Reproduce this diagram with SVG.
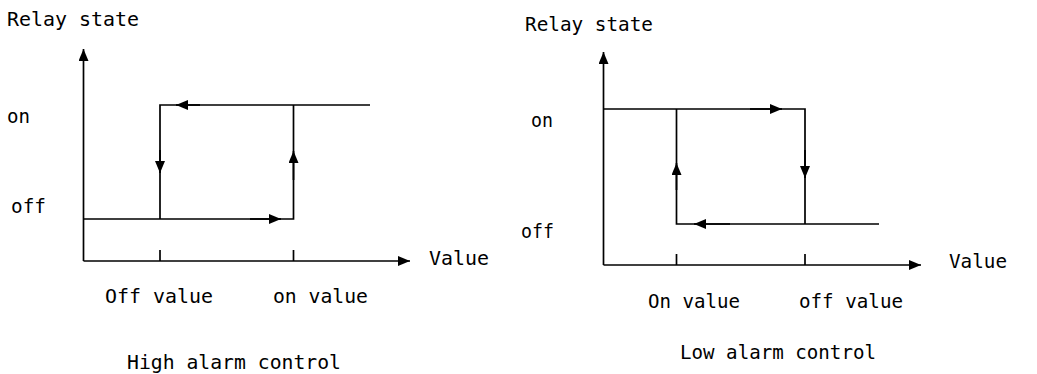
<svg xmlns="http://www.w3.org/2000/svg" width="1037" height="374" viewBox="0 0 1037 374">
<defs>
<style>
.t{font-family:"DejaVu Sans Mono","Liberation Mono",monospace;font-size:19.5px;fill:#000}
.l{stroke:#000;stroke-width:1.7;fill:none}
</style>
<marker id="ah" viewBox="0 0 12 10" refX="12" refY="5" markerWidth="12" markerHeight="10" markerUnits="userSpaceOnUse" orient="auto">
<path d="M0,0 L12,5 L0,10 z" fill="#000"/>
</marker>
</defs>
<rect width="1037" height="374" fill="#fff"/>
<g id="connectors">
<!-- left chart axes -->
<line class="l" x1="83.5" y1="261" x2="83.5" y2="49" marker-end="url(#ah)"/>
<line class="l" x1="83.5" y1="261" x2="410" y2="261" marker-end="url(#ah)"/>
<line class="l" x1="160" y1="250" x2="160" y2="261"/>
<line class="l" x1="293.5" y1="250" x2="293.5" y2="261"/>
<!-- left hysteresis -->
<polyline class="l" points="370,105 160,105 160,219"/>
<polyline class="l" points="83.5,219 293.5,219 293.5,105"/>
<line class="l" x1="200" y1="105" x2="176" y2="105" marker-end="url(#ah)"/>
<line class="l" x1="160" y1="150" x2="160" y2="173" marker-end="url(#ah)"/>
<line class="l" x1="250" y1="219" x2="281" y2="219" marker-end="url(#ah)"/>
<line class="l" x1="293.5" y1="180" x2="293.5" y2="151" marker-end="url(#ah)"/>
<!-- right chart axes -->
<line class="l" x1="603.5" y1="265" x2="603.5" y2="52" marker-end="url(#ah)"/>
<line class="l" x1="603.5" y1="265" x2="921" y2="265" marker-end="url(#ah)"/>
<line class="l" x1="676.5" y1="254" x2="676.5" y2="265"/>
<line class="l" x1="805" y1="254" x2="805" y2="265"/>
<!-- right hysteresis -->
<polyline class="l" points="603.5,109 805,109 805,224"/>
<polyline class="l" points="879,224 676.5,224 676.5,109"/>
<line class="l" x1="750" y1="109" x2="782" y2="109" marker-end="url(#ah)"/>
<line class="l" x1="805" y1="150" x2="805" y2="178" marker-end="url(#ah)"/>
<line class="l" x1="730" y1="224" x2="694" y2="224" marker-end="url(#ah)"/>
<line class="l" x1="676.5" y1="190" x2="676.5" y2="163" marker-end="url(#ah)"/>
</g>
<g id="left-labels">
<text class="t" x="7" y="26" textLength="132" lengthAdjust="spacingAndGlyphs">Relay state</text>
<text class="t" x="7" y="123" textLength="23" lengthAdjust="spacingAndGlyphs">on</text>
<text class="t" x="11" y="213" textLength="35" lengthAdjust="spacingAndGlyphs">off</text>
<text class="t" x="429" y="265" textLength="60" lengthAdjust="spacingAndGlyphs">Value</text>
<text class="t" x="105" y="303" textLength="108" lengthAdjust="spacingAndGlyphs">Off value</text>
<text class="t" x="273" y="303" textLength="95" lengthAdjust="spacingAndGlyphs">on value</text>
<text class="t" x="127" y="369" textLength="214" lengthAdjust="spacingAndGlyphs">High alarm control</text>
</g>
<g id="right-labels">
<text class="t" x="525" y="31" textLength="128" lengthAdjust="spacingAndGlyphs">Relay state</text>
<text class="t" x="531" y="127" textLength="22" lengthAdjust="spacingAndGlyphs">on</text>
<text class="t" x="521" y="238" textLength="33" lengthAdjust="spacingAndGlyphs">off</text>
<text class="t" x="949" y="268" textLength="58" lengthAdjust="spacingAndGlyphs">Value</text>
<text class="t" x="648" y="308" textLength="92" lengthAdjust="spacingAndGlyphs">On value</text>
<text class="t" x="799" y="308" textLength="104" lengthAdjust="spacingAndGlyphs">off value</text>
<text class="t" x="680" y="359" textLength="196" lengthAdjust="spacingAndGlyphs">Low alarm control</text>
</g>
</svg>
